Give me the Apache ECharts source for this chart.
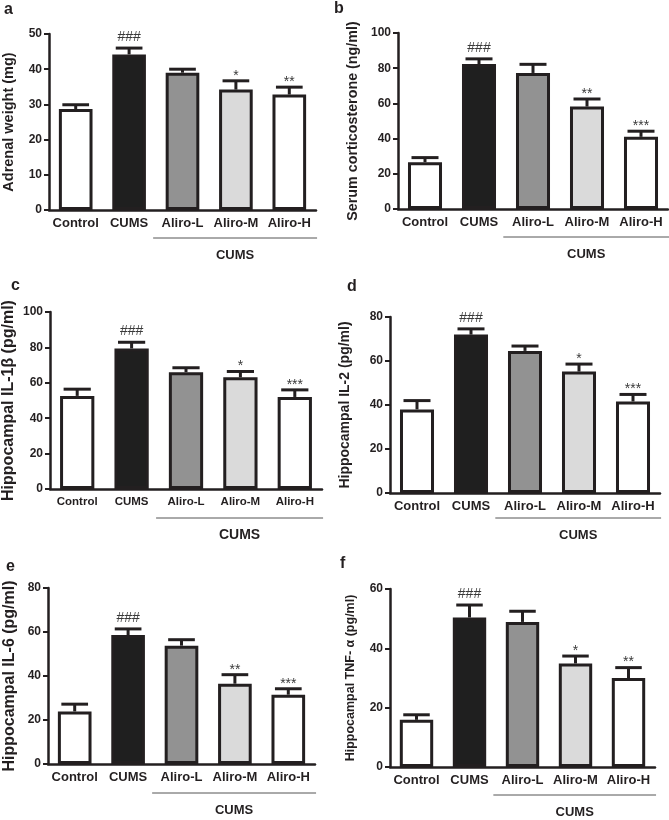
<!DOCTYPE html>
<html>
<head>
<meta charset="utf-8">
<script src="https://cdn.jsdelivr.net/npm/echarts@6/dist/echarts.min.js"></script>
<style>
html,body{margin:0;padding:0;background:#fff;}
#chart{width:669px;height:820px;}
</style>
</head>
<body>
<div id="chart"></div>
<script>
// ---- data ----
const categories = ['Control', 'CUMS', 'Aliro-L', 'Aliro-M', 'Aliro-H'];
const groupLabel = 'CUMS';

const adrenalMean = [28.7, 44.2, 39.0, 34.2, 32.8];
const adrenalSem  = [1.2, 1.8, 1.0, 2.5, 2.1];
const adrenalSig  = ['', '###', '', '*', '**'];

const cortMean = [26.6, 82.4, 77.3, 58.2, 41.0];
const cortSem  = [2.6, 2.9, 4.9, 4.3, 3.2];
const cortSig  = ['', '###', '', '**', '***'];

const il1bMean = [52.6, 79.4, 66.0, 63.1, 52.0];
const il1bSem  = [3.8, 3.5, 2.5, 3.3, 4.0];
const il1bSig  = ['', '###', '', '*', '***'];

const il2Mean = [38.0, 72.0, 64.6, 55.2, 41.6];
const il2Sem  = [4.0, 2.6, 2.2, 3.4, 3.2];
const il2Sig  = ['', '###', '', '*', '***'];

const il6Mean = [23.9, 58.6, 53.8, 36.5, 31.5];
const il6Sem  = [3.3, 2.8, 2.7, 4.1, 2.7];
const il6Sig  = ['', '###', '', '**', '***'];

const tnfMean = [15.9, 50.4, 48.9, 34.9, 30.0];
const tnfSem  = [1.7, 4.2, 3.6, 2.5, 3.5];
const tnfSig  = ['', '###', '', '*', '**'];

const yMax      = [50, 100, 100, 80, 80, 60];
const yInterval = [10, 20, 20, 20, 20, 20];
const yNames = ['Adrenal weight (mg)', 'Serum corticosterone (ng/ml)', 'Hippocampal IL-1\u03B2 (pg/ml)',
                'Hippocampal IL-2 (pg/ml)', 'Hippocampal IL-6 (pg/ml)', 'Hippocampal TNF- \u03B1 (pg/ml)'];
const panelLetters = ['a', 'b', 'c', 'd', 'e', 'f'];

// ---- style / layout ----
const INK = '#231f20';
const FILLS = ['#ffffff', '#1f1f1f', '#929292', '#dadada', '#ffffff'];
const FONT = '"Liberation Sans", Arial, Helvetica, sans-serif';

const panels = [
  {mean: adrenalMean, sem: adrenalSem, sig: adrenalSig, grid: {left: 48, top: 34, width: 268, height: 176}, nameGap: 33, nameSize: 14.5, catSize: 13, groupSize: 13, letter: [4, 11], under: 28},
  {mean: cortMean, sem: cortSem, sig: cortSig, grid: {left: 398, top: 33, width: 270, height: 176}, nameGap: 38, nameSize: 14.3, catSize: 13, groupSize: 13, letter: [334, 10], under: 28},
  {mean: il1bMean, sem: il1bSem, sig: il1bSig, grid: {left: 48, top: 312, width: 274, height: 177}, nameGap: 33, nameSize: 16, catSize: 11.5, groupSize: 14, letter: [11, 287], under: 29},
  {mean: il2Mean, sem: il2Sem, sig: il2Sig, grid: {left: 390, top: 317, width: 270, height: 176}, nameGap: 38, nameSize: 14, catSize: 13, groupSize: 13, letter: [347, 288], under: 25},
  {mean: il6Mean, sem: il6Sem, sig: il6Sig, grid: {left: 48, top: 588, width: 267, height: 176}, nameGap: 30, nameSize: 16, catSize: 13, groupSize: 13, letter: [6, 568], under: 29},
  {mean: tnfMean, sem: tnfSem, sig: tnfSig, grid: {left: 390, top: 589, width: 265, height: 178}, nameGap: 33, nameSize: 12.5, catSize: 13, groupSize: 13, letter: [340, 565], under: 28}
];

const grids = [], xAxes = [], yAxes = [], series = [], graphics = [];

panels.forEach((p, k) => {
  grids.push(Object.assign({containLabel: false}, p.grid));
  xAxes.push({
    type: 'category', gridIndex: k, data: categories,
    axisLine: {lineStyle: {color: INK, width: 2.5}},
    axisTick: {alignWithLabel: true, length: 5, lineStyle: {color: INK, width: 2}},
    axisLabel: {color: INK, fontFamily: FONT, fontWeight: 'bold', fontSize: p.catSize, margin: 7, interval: 0}
  });
  yAxes.push({
    type: 'value', gridIndex: k, min: 0, max: yMax[k], interval: yInterval[k],
    name: yNames[k], nameLocation: 'middle', nameGap: p.nameGap, nameRotate: 90,
    nameTextStyle: {color: INK, fontFamily: FONT, fontWeight: 'bold', fontSize: p.nameSize},
    axisLine: {show: true, lineStyle: {color: INK, width: 2.5}},
    axisTick: {show: true, length: 5, lineStyle: {color: INK, width: 2}},
    axisLabel: {color: INK, fontFamily: FONT, fontWeight: 'bold', fontSize: 12, margin: 7},
    splitLine: {show: false}
  });
  series.push({
    type: 'bar', xAxisIndex: k, yAxisIndex: k, barWidth: '63%', z: 2,
    data: p.mean.map((v, i) => ({value: v, itemStyle: {color: FILLS[i]}})),
    itemStyle: {borderColor: INK, borderWidth: 3},
    emphasis: {disabled: true}, animation: false
  });
  // error bars + significance labels
  series.push({
    type: 'custom', xAxisIndex: k, yAxisIndex: k, z: 3, animation: false,
    data: p.mean.map((v, i) => [i, v, v + p.sem[i]]),
    renderItem: function (params, api) {
      const i = api.value(0);
      const base = api.coord([i, api.value(1)]);
      const top = api.coord([i, api.value(2)]);
      const half = api.size([1, 0])[0] * 0.25;
      const sig = p.sig[i];
      const children = [
        {type: 'line', shape: {x1: base[0], y1: base[1], x2: top[0], y2: top[1]}, style: {stroke: INK, lineWidth: 3}},
        {type: 'line', shape: {x1: top[0] - half, y1: top[1], x2: top[0] + half, y2: top[1]}, style: {stroke: INK, lineWidth: 3}}
      ];
      if (sig) {
        const isHash = sig.indexOf('#') >= 0;
        children.push({type: 'text', style: {text: sig, x: top[0], y: top[1] - (isHash ? 4 : -2),
          align: 'center', verticalAlign: 'bottom', fill: '#3a3a3a', font: '14px ' + FONT}});
      }
      return {type: 'group', children: children};
    }
  });
  // group underline + label
  series.push({
    type: 'custom', xAxisIndex: k, yAxisIndex: k, z: 3, animation: false, clip: false,
    data: [[1.45, 4.52, 0]],
    renderItem: function (params, api) {
      const c1 = api.coord([1, 0]);
      const c2 = api.coord([2, 0]);
      const step = c2[0] - c1[0];
      const xs = c1[0] + (api.value(0) - 1) * step;
      const xe = c1[0] + (api.value(1) - 1) * step;
      const y = c1[1] + p.under;
      return {type: 'group', children: [
        {type: 'line', shape: {x1: xs, y1: y, x2: xe, y2: y}, style: {stroke: '#555', lineWidth: 1}},
        {type: 'text', style: {text: groupLabel, x: (xs + xe) / 2, y: y + 17, align: 'center', verticalAlign: 'middle',
          fill: INK, font: 'bold ' + p.groupSize + 'px ' + FONT}}
      ]};
    }
  });
  graphics.push({type: 'text', left: p.letter[0], top: p.letter[1] - 9,
    style: {text: panelLetters[k], fill: INK, font: 'bold 16px ' + FONT}});
});

const chart = echarts.init(document.getElementById('chart'), null, {renderer: 'canvas'});
chart.setOption({
  backgroundColor: '#ffffff',
  animation: false,
  grid: grids, xAxis: xAxes, yAxis: yAxes, series: series, graphic: graphics
});
</script>
</body>
</html>
